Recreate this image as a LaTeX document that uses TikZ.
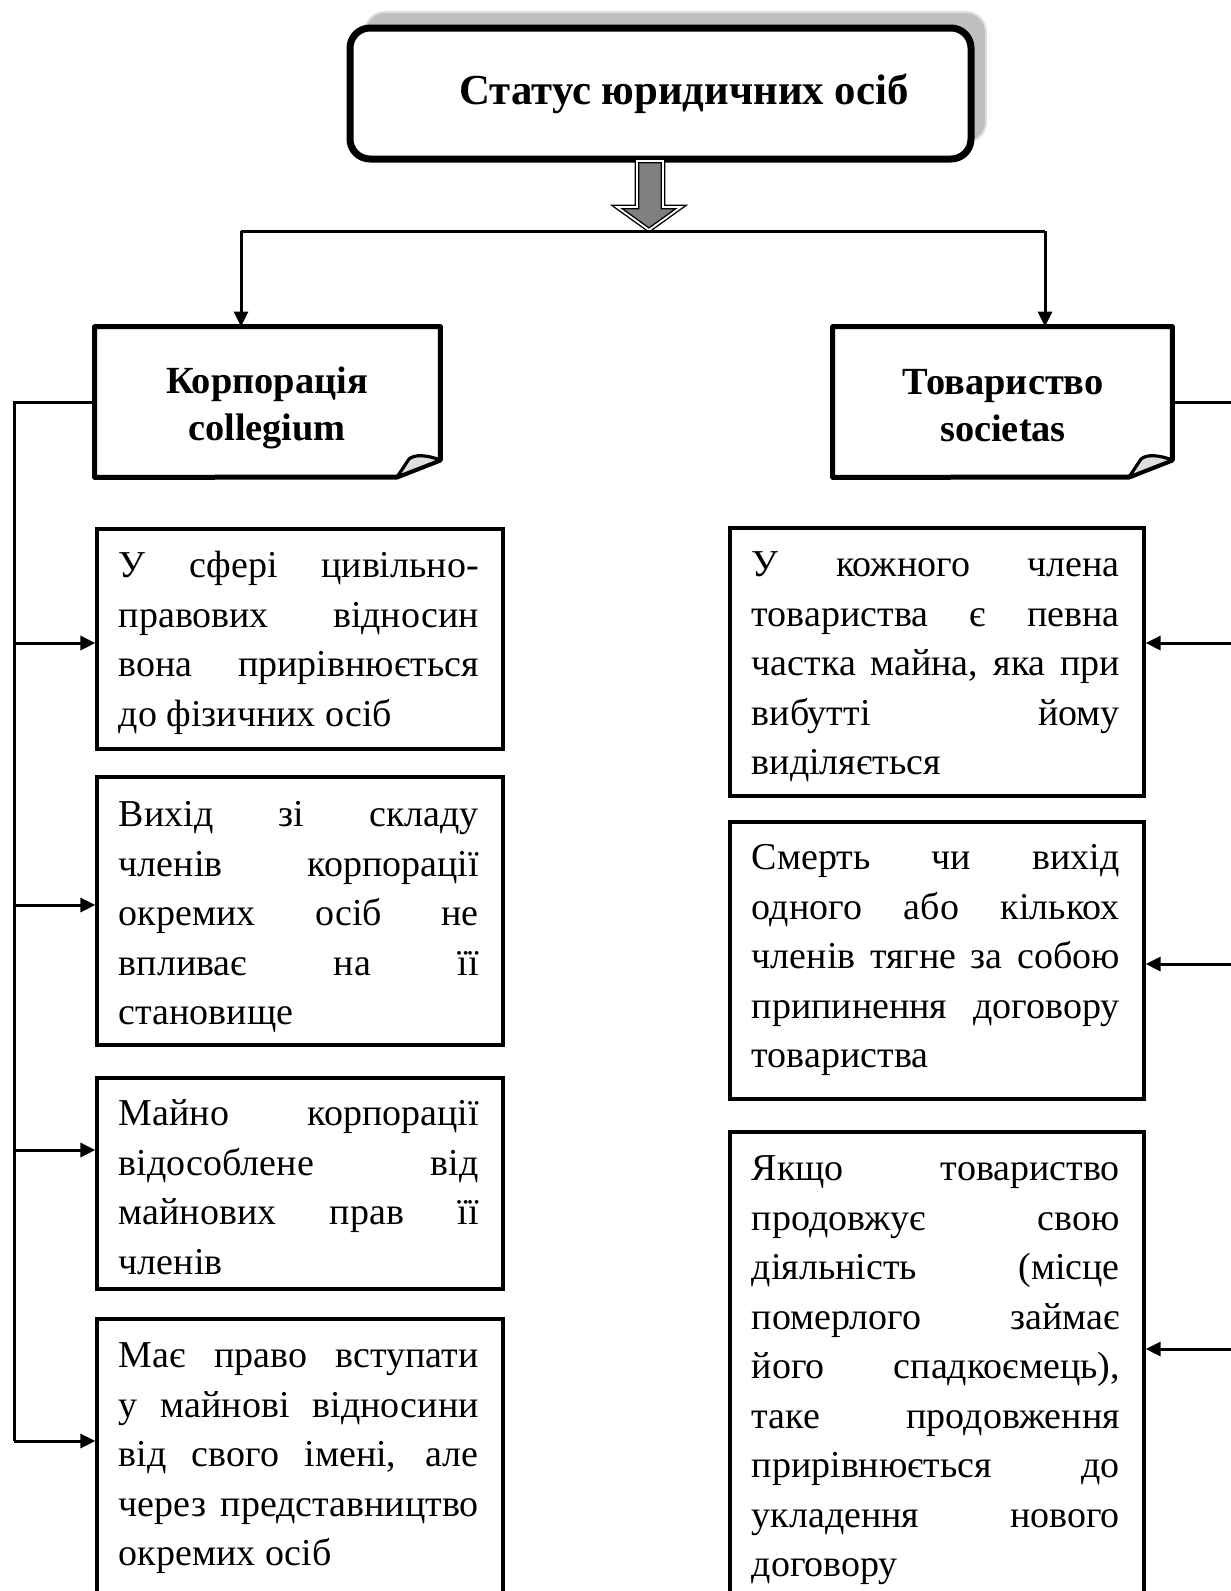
\documentclass[tikz,border=0pt]{standalone}
\usepackage{fontspec}
\setmainfont{Liberation Serif}
\usetikzlibrary{arrows.meta,calc,fit}
\newcommand\jL[1]{\makebox[180pt][s]{#1}}
\newcommand\jR[1]{\makebox[184pt][s]{#1}}
\tikzset{
  conn/.style={line width=1.5pt},
  arr/.style={conn,-{Triangle[length=7.5pt,width=7pt]}},
  tbox/.style={draw,line width=1.6pt,inner sep=0pt,rectangle},
  cbox/.style={inner sep=0pt,rectangle},
  txt/.style={inner sep=0pt,align=left,anchor=north west,font=\fontsize{19pt}{24.75pt}\selectfont},
  cat/.style={inner sep=0pt,align=center,font=\fontsize{19.2pt}{23.5pt}\selectfont\bfseries},
}
\begin{document}
\begin{tikzpicture}[x=0.5pt,y=-0.5pt]
\useasboundingbox (0,0) rectangle (1231,1591);
\clip (0,0) rectangle (1231,1591);
% title box with shadow
\fill[gray!50,draw=gray!25,line width=1pt,rounded corners=10pt] (365,12) rectangle (986,142);
\node[draw,line width=3.5pt,rounded corners=10pt,fill=white,inner sep=0pt,fit={(350,28) (971,159)}] (top) {};
\node[anchor=base,font=\fontsize{21.4pt}{26pt}\selectfont\bfseries] (title) at (684,104) {Статус юридичних осіб};
% block arrow
\draw[fill=gray,draw=black,double=white,double distance=0.9pt,line width=0.7pt,line join=miter]
  (637,161) -- (663,161) -- (663,207) -- (681,207) -- (649,230) -- (617,207) -- (637,207) -- cycle;
% bus
\coordinate (bL) at (241,231);
\coordinate (bR) at (1045,231);
\draw[conn] (bL) -- (bR);
% category boxes
\node[cbox,fit={(95,327) (440,477)}] (corp) {};
\node[cbox,fit={(833,327) (1172,477)}] (tov) {};
\foreach \b/\fx/\fy/\ix in {corp/397/477/409, tov/1129/477/1141}{
  \draw[line width=2.5pt,line join=round] (\b.south west) -- (\b.north west) -- (\b.north east) -- (\b.east |- 0,460) -- (\fx,\fy) -- cycle;
  \draw[line width=1.6pt,fill=gray!25,line join=round] (\fx,\fy) -- (\ix,459) .. controls (\ix+6,454) and (\ix+18,455) .. (\b.east |- 0,460) -- cycle;
}
\node[cat] (corpt) at (267,408) {Корпорація\\collegium};
\node[cat] (tovt) at (1003,406) {Товариство\\societas};
\draw[arr] (bL) -- (bL |- corp.north);
\draw[arr] (bR) -- (bR |- tov.north);
% left boxes
\node[tbox,fit={(97,529) (503,749)}] (L1) {};
\node[tbox,fit={(97,777) (503,1045)}] (L2) {};
\node[tbox,fit={(97,1078) (503,1289)}] (L3) {};
\node[tbox,fit={(97,1319) (503,1660)}] (L4) {};
% right boxes
\node[tbox,fit={(730,528) (1144,796)}] (R1) {};
\node[tbox,fit={(730,822) (1144,1099)}] (R2) {};
\node[tbox,fit={(730,1132) (1144,1660)}] (R3) {};
% texts
\node[txt] (L1t) at ($(L1.north west)+(23,15.35)$) {\strut\jL{У сфері цивільно-}\\\jL{правових відносин}\\\jL{вона прирівнюється}\\до фізичних осіб};
\node[txt] (L2t) at ($(L2.north west)+(23,16.35)$) {\strut\jL{Вихід зі складу}\\\jL{членів корпорації}\\\jL{окремих осіб не}\\\jL{впливає на її}\\становище};
\node[txt] (L3t) at ($(L3.north west)+(23,14.35)$) {\strut\jL{Майно корпорації}\\\jL{відособлене від}\\\jL{майнових прав її}\\членів};
\node[txt] (L4t) at ($(L4.north west)+(23,15.35)$) {\strut\jL{Має право вступати}\\\jL{у майнові відносини}\\\jL{від свого імені, але}\\\jL{через представництво}\\окремих осіб};
\node[txt] (R1t) at ($(R1.north west)+(23,15.35)$) {\strut\jR{У кожного члена}\\\jR{товариства є певна}\\\jR{частка майна, яка при}\\\jR{вибутті йому}\\виділяється};
\node[txt] (R2t) at ($(R2.north west)+(23,14.35)$) {\strut\jR{Смерть чи вихід}\\\jR{одного або кількох}\\\jR{членів тягне за собою}\\\jR{припинення договору}\\товариства};
\node[txt] (R3t) at ($(R3.north west)+(23,15.35)$) {\strut\jR{Якщо товариство}\\\jR{продовжує свою}\\\jR{діяльність (місце}\\\jR{померлого займає}\\\jR{його спадкоємець),}\\\jR{таке продовження}\\\jR{прирівнюється до}\\\jR{укладення нового}\\договору};
% left spine
\coordinate (sL) at (14,402);
\draw[conn] (corp.west) -- (sL) -- (sL |- 0,1441);
\draw[arr] (sL |- 0,643) -- (L1.west |- 0,643);
\draw[arr] (sL |- 0,905) -- (L2.west |- 0,905);
\draw[arr] (sL |- 0,1150) -- (L3.west |- 0,1150);
\draw[arr] (sL |- 0,1441) -- (L4.west |- 0,1441);
% right spine (off page)
\coordinate (sR) at (1245,402);
\draw[conn] (tov.east) -- (sR) -- (sR |- 0,1349);
\draw[arr] (sR |- 0,643) -- (R1.east |- 0,643);
\draw[arr] (sR |- 0,964) -- (R2.east |- 0,964);
\draw[arr] (sR |- 0,1349) -- (R3.east |- 0,1349);
\end{tikzpicture}
\end{document}
